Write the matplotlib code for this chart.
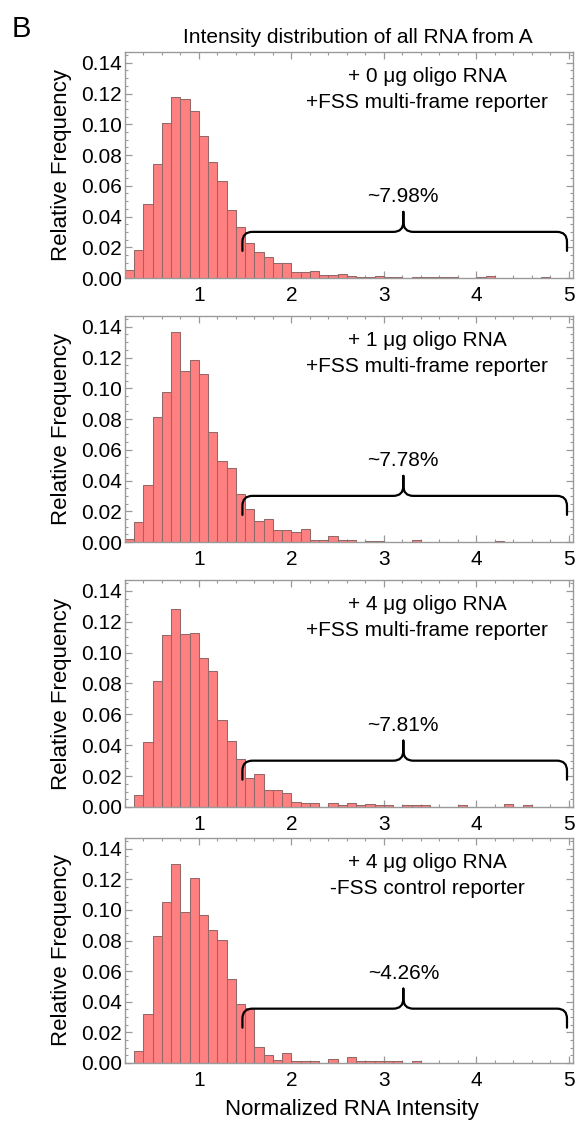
import matplotlib
matplotlib.use('Agg')
import matplotlib.pyplot as plt
import numpy as np
from matplotlib.path import Path
from matplotlib.patches import PathPatch
from matplotlib.ticker import MultipleLocator, FormatStrFormatter

plt.rcParams['font.family'] = ['Liberation Sans', 'DejaVu Sans']

# ---------------- data ----------------
bin_start = 0.2
bin_width = 0.1

freq_0ug_fss = [0.005, 0.0183, 0.048, 0.0743, 0.1005, 0.1178, 0.1167, 0.1087, 0.0926, 0.0757,
                0.0633, 0.0443, 0.033, 0.0226, 0.0172, 0.0139, 0.0098, 0.0098, 0.0042, 0.0042,
                0.0045, 0.0018, 0.0018, 0.0026, 0.0012, 0.0007, 0.0007, 0.0012, 0.0007, 0.0005,
                0.0, 0.0004, 0.0004, 0.0004, 0.0004, 0.0004, 0.0, 0.0, 0.0005, 0.0012,
                0.0, 0.0, 0.0, 0.0, 0.0, 0.0007]
freq_1ug_fss = [0.002, 0.0129, 0.037, 0.081, 0.0978, 0.1368, 0.1114, 0.1186, 0.1094, 0.0713,
                0.0528, 0.048, 0.031, 0.0217, 0.0137, 0.015, 0.0076, 0.0076, 0.0063, 0.0085,
                0.0015, 0.0015, 0.0037, 0.0011, 0.0011, 0.0, 0.0005, 0.0005, 0.0, 0.0,
                0.0, 0.0011, 0.0, 0.0, 0.0, 0.0, 0.0, 0.0, 0.0, 0.0,
                0.0004]
freq_4ug_fss = [0.0, 0.0076, 0.042, 0.0817, 0.1115, 0.128, 0.112, 0.113, 0.0965, 0.088,
                0.0566, 0.0425, 0.031, 0.019, 0.0216, 0.0112, 0.0112, 0.0088, 0.0035, 0.0026,
                0.0026, 0.0, 0.0026, 0.0013, 0.0026, 0.0013, 0.0017, 0.0013, 0.0011, 0.0,
                0.0011, 0.0011, 0.0011, 0.0, 0.0, 0.0, 0.0011, 0.0, 0.0, 0.0,
                0.0, 0.0017, 0.0, 0.0011]
freq_4ug_ctrl = [0.0, 0.008, 0.032, 0.083, 0.105, 0.13, 0.0987, 0.121, 0.0965, 0.087,
                 0.0804, 0.0547, 0.0388, 0.0357, 0.0107, 0.0052, 0.0017, 0.0068, 0.0013, 0.0013,
                 0.0013, 0.0, 0.0028, 0.0, 0.0041, 0.0013, 0.0013, 0.0013, 0.0013, 0.0013,
                 0.0, 0.0013]

series = [freq_0ug_fss, freq_1ug_fss, freq_4ug_fss, freq_4ug_ctrl]
line1_labels = ["+ 0 μg oligo RNA", "+ 1 μg oligo RNA", "+ 4 μg oligo RNA", "+ 4 μg oligo RNA"]
line2_labels = ["+FSS multi-frame reporter", "+FSS multi-frame reporter",
                "+FSS multi-frame reporter", "-FSS control reporter"]
percent_labels = ["~7.98%", "~7.78%", "~7.81%", "~4.26%"]
brace_levels = [0.030, 0.030, 0.030, 0.0355]
brace_x = (1.47, 3.21, 4.98)

title = "Intensity distribution of all RNA from A"
xlabel = "Normalized RNA Intensity"
ylabel = "Relative Frequency"

# ---------------- layout ----------------
W, H = 578, 1123
fig = plt.figure(figsize=(W / 100, H / 100), dpi=100)
ax_left, ax_right = 125, 573
panels_px = [(52, 278), (316, 542), (580, 807), (838, 1063)]
XLIM = (0.2, 5.045)
YLIM = (0.0, 0.147)
frame_col = '#9a9a9a'

ax_w = ax_right - ax_left
sx = (XLIM[1] - XLIM[0]) / ax_w


def draw_brace(ax, yl, sy):
    x0, xc, x1 = brace_x
    r = 10
    verts = [
        (x0, yl - 19 * sy), (x0, yl - r * sy),
        (x0, yl), (x0 + r * sx, yl),
        (xc - 10 * sx, yl),
        (xc, yl), (xc, yl + 10 * sy),
        (xc, yl + 20 * sy),
        (xc, yl + 10 * sy),
        (xc, yl), (xc + 10 * sx, yl),
        (x1 - r * sx, yl),
        (x1, yl), (x1, yl - r * sy),
        (x1, yl - 19 * sy),
    ]
    codes = [Path.MOVETO, Path.LINETO,
             Path.CURVE3, Path.CURVE3,
             Path.LINETO,
             Path.CURVE3, Path.CURVE3,
             Path.LINETO,
             Path.LINETO,
             Path.CURVE3, Path.CURVE3,
             Path.LINETO,
             Path.CURVE3, Path.CURVE3,
             Path.LINETO]
    ax.add_patch(PathPatch(Path(verts, codes), facecolor='none', edgecolor='black',
                           lw=1.6, capstyle='round', joinstyle='round', zorder=5))


for i, (top, bot) in enumerate(panels_px):
    ax = fig.add_axes([ax_left / W, 1 - bot / H, ax_w / W, (bot - top) / H])
    vals = np.array(series[i])
    lefts = bin_start + bin_width * np.arange(len(vals))
    mask = vals > 0
    ax.bar(lefts[mask], vals[mask], width=bin_width, align='edge',
           color='#ff8080', edgecolor='#926868', linewidth=0.75, zorder=2)
    ax.set_xlim(*XLIM)
    ax.set_ylim(*YLIM)
    for s in ax.spines.values():
        s.set_color(frame_col)
        s.set_linewidth(1.0)
    ax.xaxis.set_major_locator(MultipleLocator(1))
    ax.xaxis.set_minor_locator(MultipleLocator(0.2))
    ax.yaxis.set_major_locator(MultipleLocator(0.02))
    ax.yaxis.set_minor_locator(MultipleLocator(0.005))
    ax.yaxis.set_major_formatter(FormatStrFormatter('%.2f'))
    ax.tick_params(which='both', direction='in', top=True, right=True, color=frame_col,
                   labelcolor='black')
    ax.tick_params(which='major', length=5, width=0.9, labelsize=15)
    ax.tick_params(which='minor', length=2.5, width=0.8)
    ax.tick_params(axis='x', which='major', pad=6)
    ax.tick_params(axis='y', which='major', pad=2)

    h = bot - top
    sy = (YLIM[1] - YLIM[0]) / h
    ax.text(0.674, 1 - 30 / h, line1_labels[i], transform=ax.transAxes,
            ha='center', va='baseline', fontsize=15)
    ax.text(0.674, 1 - 56 / h, line2_labels[i], transform=ax.transAxes,
            ha='center', va='baseline', fontsize=15)
    yl = brace_levels[i]
    draw_brace(ax, yl, sy)
    ax.text(brace_x[1], yl + 30 * sy, percent_labels[i], ha='center', va='baseline',
            fontsize=15)

    fig.text(62 / W, 1 - ((top + bot) / 2) / H, ylabel, rotation=90,
             ha='center', va='center', fontsize=16)

fig.text(12 / W, 1 - 37 / H, 'B', fontsize=21, ha='left', va='baseline')
fig.text(358 / W, 1 - 43 / H, title, fontsize=15, ha='center', va='baseline')
fig.text(352 / W, 1 - 1109 / H, xlabel, fontsize=16, ha='center', va='center')

fig.savefig('out.png', dpi=100)
